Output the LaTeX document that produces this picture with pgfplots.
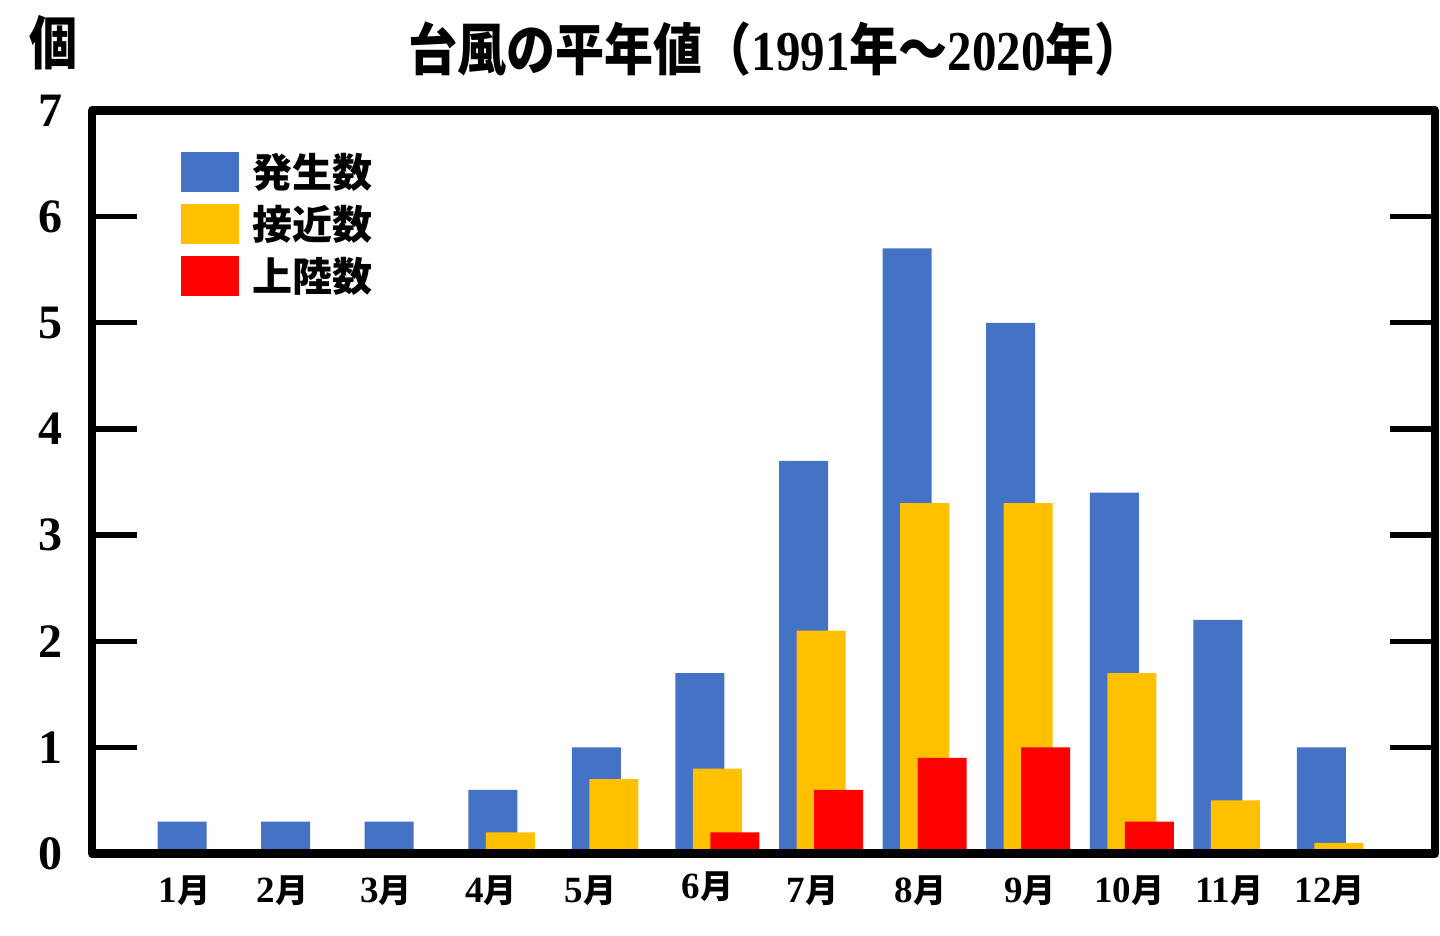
\documentclass[border=0pt]{standalone}
\usepackage{fontspec}
\setmainfont{Liberation Serif}
\newfontfamily\jp{Noto Sans CJK JP}
\usepackage{pgfplots}
\pgfplotsset{compat=1.18}
\definecolor{cblue}{HTML}{4472C4}
\definecolor{cyel}{HTML}{FFC000}
\definecolor{cred}{HTML}{FF0000}
\newcommand\J[1]{{\jp\bfseries #1}}
\newcommand\Mo[1]{#1{\jp\bfseries\fontsize{16.5}{16.5}\selectfont 月}}
\pgfplotsset{
  sq/.style={legend image code/.code={\fill[##1] (0pt,-10pt) rectangle (29pt,10pt);}}
}
\begin{document}
\begin{tikzpicture}
\useasboundingbox (0,0) rectangle (720pt,468pt);
\begin{axis}[
  at={(46pt,41.25pt)}, anchor=south west,
  scale only axis, width=671.5pt, height=371.5pt,
  xmin=-1.038, xmax=11.927, ymin=0, ymax=7,
  axis on top,
  axis line style={line width=4.2pt, line join=round, black},
  ytick={0,1,2,3,4,5,6,7}, yticklabels={0,1,2,3,4,5,6,7},
  yticklabel pos=left, ytick pos=both,
  tick align=inside,
  major tick length=22.5pt,
  ytick style={line width=2.6pt, black},
  xtick={-0.145,0.801,1.800,2.814,3.775,4.904,5.918,6.960,8.017,8.973,9.943,10.913},
  xticklabels={\Mo{1},\Mo{2},\Mo{3},\Mo{4},\Mo{5},\raisebox{2pt}{\Mo{6}},\Mo{7},\Mo{8},\Mo{9},\Mo{10},\Mo{11},\Mo{12}},
  xtick style={draw=none},
  yticklabel style={font=\fontsize{24}{24}\selectfont\bfseries, anchor=east, inner sep=0pt, xshift=-14.5pt},
  xticklabel style={font=\fontsize{18.5}{18.5}\selectfont\bfseries, anchor=base, inner sep=0pt, yshift=-24.75pt},
  title={\scalebox{1}[1.15]{\fontsize{24.5}{28}\selectfont\bfseries\J{台風の平年値（}1991\J{年～}2020\J{年）}}},
  every axis title shift=0pt,
  title style={at={(rel axis cs:0.5095,1)}, anchor=base, inner sep=0pt, yshift=20pt},
  ylabel={\J{\scalebox{1}[1.2]{個}}},
  every axis y label/.style={at={(rel axis cs:0,1)}, anchor=base, inner sep=0pt, xshift=-19pt, yshift=23pt, font=\fontsize{24}{24}\selectfont},
  legend style={at={(rel axis cs:0,1)}, anchor=north west, xshift=44.5pt, yshift=-20.75pt,
    draw=none, fill=none, inner sep=0pt, outer sep=0pt, row sep=6pt, column sep=6.5pt,
    font=\jp\bfseries\fontsize{20}{20}\selectfont,
    nodes={anchor=west, inner sep=0pt, text height=17.6pt, text depth=2.4pt}},
  legend cell align=left,
]
\addplot[ybar, bar width=0.473, bar shift=-0.169, fill=cblue, draw=none, sq]
  coordinates {(0,0.3) (1,0.3) (2,0.3) (3,0.6) (4,1.0) (5,1.7) (6,3.7) (7,5.7) (8,5.0) (9,3.4) (10,2.2) (11,1.0)};
\addplot[ybar, bar width=0.473, bar shift=0, fill=cyel, draw=none, sq]
  coordinates {(0,0) (1,0) (2,0) (3,0.2) (4,0.7) (5,0.8) (6,2.1) (7,3.3) (8,3.3) (9,1.7) (10,0.5) (11,0.1)};
\addplot[ybar, bar width=0.473, bar shift=0.169, fill=cred, draw=none, sq]
  coordinates {(0,0) (1,0) (2,0) (3,0) (4,0) (5,0.2) (6,0.6) (7,0.9) (8,1.0) (9,0.3) (10,0) (11,0)};
\legend{発生数,接近数,上陸数}
\end{axis}
\end{tikzpicture}
\end{document}
